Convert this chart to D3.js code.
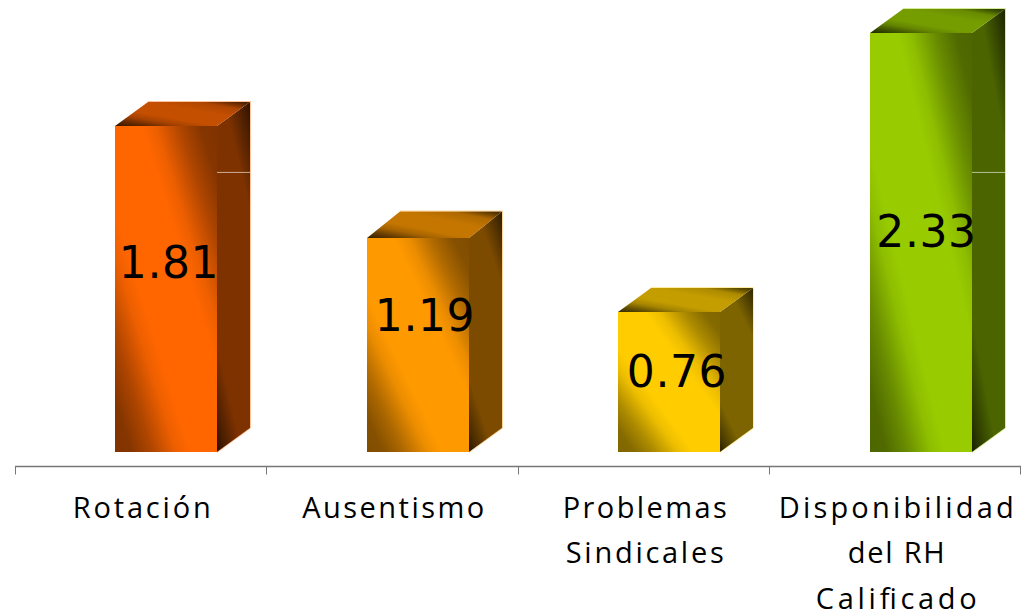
<!DOCTYPE html>
<html><head><meta charset="utf-8">
<script src="https://cdn.jsdelivr.net/npm/d3@7"></script>
<style>html,body{margin:0;padding:0;background:#fff;overflow:hidden}svg{display:block}</style>
</head><body><svg id="c" width="1021" height="613"></svg>
<script>
const categories = [["Rotación"],["Ausentismo"],["Problemas","Sindicales"],["Disponibilidad","del RH","Calificado"]];
const categoryWidths = [[138],[182],[164,158],[235,97,161]];
// Bar heights; the third bar is drawn about 0.78 tall although it is labelled 0.76.
const barValues = [1.81,1.19,0.778,2.33];
const valueLabels = ["1.81","1.19","0.76","2.33"];
const barColors = ["#FF6600","#FF9900","#FFCC00","#99CC00"];
const labelShift = [[3,-27],[7,-30],[8,-11],[5.5,-11]];
const topRise = [0,2.5,0,0];
const gridValues = [1.556];

const baseY=452, axisY=466.5, dx=33, dy=24, frontW=102, frontOff=100;
const svg=d3.select("#c");
const keys=d3.range(categories.length);
const x=d3.scaleBand().domain(keys).range([15,1021]).paddingInner(0).paddingOuter(0);
const y=d3.scaleLinear().domain([0,1]).range([baseY,baseY-180]);
const defs=svg.append("defs");

function grad(id,stops,v){
  const g=defs.append("linearGradient").attr("id",id)
    .attr("x1",1).attr("y1",0).attr("x2",v?v[0]:0).attr("y2",v?v[1]:1);
  stops.forEach(s=>g.append("stop").attr("offset",s[0]).attr("stop-color",s[1]));
}
barColors.forEach((c,i)=>{
  const k=f=>d3.rgb(d3.rgb(c).r*f,d3.rgb(c).g*f,d3.rgb(c).b*f).formatHex();
  grad("front"+i,[[0,k(.5)],[.08,k(.52)],[.18,k(.68)],[.3,k(.93)],[.37,c],[.63,c],[.7,k(.93)],[.82,k(.68)],[.92,k(.52)],[1,k(.5)]]);
  grad("side"+i,[[0,k(.18)],[.07,k(.28)],[.22,k(.49)],[.78,k(.49)],[.93,k(.28)],[1,k(.15)]],[.517,1.207]);
  grad("top"+i,[[0,k(.25)],[.06,k(.35)],[.19,k(.68)],[.375,k(.77)],[.625,k(.77)],[.75,k(.65)],[.875,k(.4)],[1,k(.2)]]);
});

const bars=svg.selectAll("g.bar").data(keys).join("g").attr("class","bar");
const L=i=>Math.round(x(i)+frontOff), R=i=>L(i)+frontW, T=i=>Math.round(y(barValues[i]));
const D=i=>dy+topRise[i];
const pts=a=>a.map(p=>p.join(",")).join(" ");
bars.append("polygon").attr("fill",i=>`url(#side${i})`)
  .attr("points",i=>pts([[R(i),T(i)],[R(i)+dx,T(i)-D(i)],[R(i)+dx,baseY-dy],[R(i),baseY]]));
bars.append("polygon").attr("fill",i=>`url(#top${i})`)
  .attr("points",i=>pts([[L(i),T(i)],[L(i)+dx,T(i)-D(i)],[R(i)+dx,T(i)-D(i)],[R(i),T(i)]]));
bars.append("polyline").attr("fill","none").attr("stroke",i=>barColors[i]).attr("stroke-opacity",.4).attr("stroke-width",1)
  .attr("points",i=>pts([[L(i)+dx,T(i)-D(i)-.5],[R(i)+dx+.5,T(i)-D(i)-.5],[R(i)+dx+.5,baseY-dy],[R(i),baseY+.5]]));
bars.append("rect").attr("fill",i=>`url(#front${i})`)
  .attr("x",L).attr("y",T).attr("width",frontW).attr("height",i=>baseY-T(i));
gridValues.forEach(v=>{
  bars.filter(i=>T(i)-dy<y(v)).append("line")
    .attr("x1",R).attr("x2",i=>R(i)+dx).attr("y1",y(v)+.5).attr("y2",y(v)+.5)
    .attr("stroke","#fff").attr("stroke-opacity",.6).attr("stroke-width",1);
});
bars.append("text").attr("text-anchor","middle")
  .attr("font-family","'DejaVu Sans'").attr("font-size",44).attr("letter-spacing",.6).attr("fill","#000")
  .attr("x",i=>L(i)+frontW/2+labelShift[i][0])
  .attr("y",i=>(T(i)+baseY)/2+labelShift[i][1]+15.5)
  .text(i=>valueLabels[i]);

const axis=svg.append("g");
axis.append("line").attr("x1",x.range()[0]).attr("x2",x.range()[1]).attr("y1",axisY).attr("y2",axisY).attr("stroke","#777").attr("stroke-width",1.3);
const ticks=[...keys.map(k=>x(k)),x.range()[1]-1];
axis.selectAll("line.t").data(ticks).join("line").attr("class","t")
  .attr("x1",d=>Math.floor(d)+.5).attr("x2",d=>Math.floor(d)+.5).attr("y1",axisY).attr("y2",axisY+8).attr("stroke","#777").attr("stroke-width",1);
keys.forEach(i=>{
  categories[i].forEach((d,j)=>{
    svg.append("text").attr("text-anchor","middle").attr("font-family","'Open Sans'").attr("font-size",29).attr("fill","#000")
      .attr("x",x(i)+x.bandwidth()/2+1).attr("y",517.5+j*45.5)
      .attr("textLength",categoryWidths[i][j]).attr("lengthAdjust","spacing").text(d);
  });
});
</script></body></html>
